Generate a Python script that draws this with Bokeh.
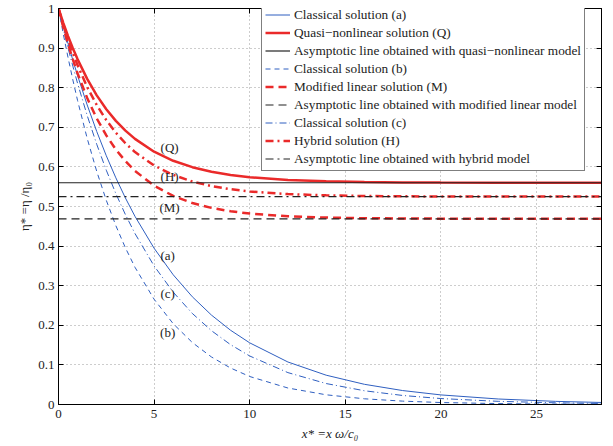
from bokeh.plotting import figure
from bokeh.models import Legend, LegendItem, LinearAxis, Range1d, FixedTicker, ColumnDataSource
from bokeh.embed import file_html
from bokeh.resources import INLINE
from bokeh.core.properties import value

# ---- data ----
x = [0, 0.25, 0.5, 0.75, 1, 1.5, 2, 2.5, 3, 3.5, 4, 5, 6, 7, 8, 9, 10, 12, 14, 16, 18, 20, 23, 26, 28.4]

classical_a = [1.0, 0.9546, 0.9112, 0.8698, 0.8303, 0.7565, 0.6894, 0.6281, 0.5724, 0.5215, 0.4752,
               0.3946, 0.3276, 0.2720, 0.2258, 0.1875, 0.1557, 0.1073, 0.0740, 0.0510, 0.0352,
               0.0242, 0.0139, 0.0079, 0.0051]
classical_b = [1.0, 0.9359, 0.8759, 0.8198, 0.7672, 0.6720, 0.5886, 0.5156, 0.4516, 0.3956, 0.3465,
               0.2658, 0.2039, 0.1565, 0.1200, 0.0921, 0.0707, 0.0416, 0.0245, 0.0144, 0.0085,
               0.0050, 0.0023, 0.0010, 0.0005]
classical_c = [1.0, 0.9489, 0.9003, 0.8543, 0.8106, 0.7298, 0.6570, 0.5916, 0.5326, 0.4795, 0.4317,
               0.3499, 0.2837, 0.2299, 0.1864, 0.1511, 0.1225, 0.0805, 0.0529, 0.0347, 0.0228,
               0.0150, 0.0080, 0.0043, 0.0026]
quasi_q = [1.0, 0.9637, 0.9303, 0.8997, 0.8716, 0.8222, 0.7807, 0.7457, 0.7163, 0.6916, 0.6707,
           0.6384, 0.6155, 0.5993, 0.5879, 0.5797, 0.5740, 0.5670, 0.5635, 0.5618, 0.5609,
           0.5604, 0.5602, 0.5601, 0.5600]
modified_m = [1.0, 0.9531, 0.9103, 0.8713, 0.8358, 0.7738, 0.7223, 0.6796, 0.6440, 0.6144, 0.5899,
              0.5525, 0.5267, 0.5088, 0.4965, 0.4880, 0.4821, 0.4753, 0.4720, 0.4704, 0.4697,
              0.4693, 0.4691, 0.4690, 0.4690]
hybrid_h = [1.0, 0.9591, 0.9218, 0.8876, 0.8564, 0.8018, 0.7562, 0.7181, 0.6863, 0.6598, 0.6375,
            0.6035, 0.5798, 0.5632, 0.5516, 0.5436, 0.5380, 0.5313, 0.5281, 0.5265, 0.5257,
            0.5253, 0.5251, 0.5250, 0.5250]

asym_x = [0, 28.4]
asym_q = [0.56, 0.56]
asym_m = [0.469, 0.469]
asym_h = [0.525, 0.525]

label_x = [5.81, 5.81, 5.81, 5.71, 5.71, 5.71]
label_y = [0.649, 0.576, 0.497, 0.376, 0.280, 0.182]
label_text = ["(Q)", "(H)", "(M)", "(a)", "(c)", "(b)"]

x_ticks = [0, 5, 10, 15, 20, 25]
y_ticks = [0, 0.1, 0.2, 0.3, 0.4, 0.5, 0.6, 0.7, 0.8, 0.9, 1]
y_tick_labels = ["0", "0.1", "0.2", "0.3", "0.4", "0.5", "0.6", "0.7", "0.8", "0.9", "1"]

legend_labels = [
    "Classical solution (a)",
    "Quasi\u2212nonlinear solution (Q)",
    "Asymptotic line obtained with quasi\u2212nonlinear model",
    "Classical solution (b)",
    "Modified linear solution (M)",
    "Asymptotic line obtained with modified linear model",
    "Classical solution (c)",
    "Hybrid solution (H)",
    "Asymptotic line obtained with hybrid model",
]

# ---- styles ----
FONT = "Liberation Serif"
BLUE = "#2f5fc0"
RED = "#ea2a2a"
BLACK = "#222222"

p = figure(width=613, height=446, x_range=Range1d(0, 28.4), y_range=Range1d(0, 1),
           output_backend="svg", toolbar_location=None,
           min_border_left=58, min_border_right=12, min_border_top=8, min_border_bottom=42)
p.background_fill_color = "white"
p.border_fill_color = "white"
p.outline_line_color = "black"
p.outline_line_width = 1

# grid
for g in (p.xgrid, p.ygrid):
    g.grid_line_color = "#9a9a9a"
    g.grid_line_dash = "1 3"
    g.grid_line_width = 1
p.xgrid.ticker = FixedTicker(ticks=x_ticks)
p.ygrid.ticker = FixedTicker(ticks=y_ticks)

# main axes
p.xaxis.ticker = FixedTicker(ticks=x_ticks)
p.yaxis.ticker = FixedTicker(ticks=y_ticks)
p.yaxis.major_label_overrides = {t: s for t, s in zip(y_ticks, y_tick_labels)}
p.xaxis.major_label_overrides = {t: str(t) for t in x_ticks}
for ax in (p.xaxis, p.yaxis):
    ax.axis_line_color = "black"
    ax.major_tick_line_color = "black"
    ax.major_tick_in = 5
    ax.major_tick_out = 0
    ax.minor_tick_line_color = None
    ax.major_label_text_font = FONT
    ax.major_label_text_font_size = "13px"
    ax.major_label_text_color = "#222222"
    ax.axis_label_text_font = FONT
    ax.axis_label_text_font_size = "13px"
    ax.axis_label_text_font_style = "normal"
    ax.axis_label_text_color = "#222222"
p.xaxis.major_label_standoff = 5
p.yaxis.major_label_standoff = 4
p.xaxis.axis_label = "x* =x \u03c9/c\u2080"
p.xaxis.axis_label_text_font_style = "italic"
p.xaxis.axis_label_standoff = 5
p.yaxis.axis_label = "\u03b7* =\u03b7 /\u03b7\u2080"
p.yaxis.axis_label_standoff = 3

# mirror axes (ticks only)
for side, tk in (("right", y_ticks), ("above", x_ticks)):
    ax = LinearAxis(ticker=FixedTicker(ticks=tk), major_tick_in=5, major_tick_out=0,
                    minor_tick_line_color=None, axis_line_color="black",
                    major_tick_line_color="black", major_label_standoff=0,
                    major_label_text_font_size="0px",
                    major_label_overrides={t: "" for t in tk})
    p.add_layout(ax, side)

# curves
r_a = p.line(x, classical_a, line_color=BLUE, line_width=1)
r_b = p.line(x, classical_b, line_color=BLUE, line_width=1, line_dash="5 4")
r_c = p.line(x, classical_c, line_color=BLUE, line_width=1, line_dash="7 3 1 3")
r_q = p.line(x, quasi_q, line_color=RED, line_width=2.5)
r_m = p.line(x, modified_m, line_color=RED, line_width=2.5, line_dash="8 5")
r_h = p.line(x, hybrid_h, line_color=RED, line_width=2.5, line_dash="8 4 2 4")
r_aq = p.line(asym_x, asym_q, line_color=BLACK, line_width=1.2)
r_am = p.line(asym_x, asym_m, line_color=BLACK, line_width=1.2, line_dash="8 5")
r_ah = p.line(asym_x, asym_h, line_color=BLACK, line_width=1.2, line_dash="8 4 2 4")

src = ColumnDataSource(dict(x=label_x, y=label_y, t=label_text))
p.text(x="x", y="y", text="t", source=src, text_font=value(FONT), text_font_size="13px",
       text_align="center", text_baseline="middle", text_color="#222222")

renderers = [r_a, r_q, r_aq, r_b, r_m, r_am, r_c, r_h, r_ah]
items = [LegendItem(label=l, renderers=[r]) for l, r in zip(legend_labels, renderers)]
legend = Legend(items=items, location=(203, 233))
legend.label_text_font = FONT
legend.label_text_font_size = "13.3px"
legend.label_text_color = "#222222"
legend.glyph_width = 25
legend.glyph_height = 17
legend.label_height = 17
legend.spacing = 1
legend.padding = 3
legend.margin = 0
legend.label_standoff = 4
legend.border_line_color = "black"
legend.border_line_width = 1
legend.background_fill_color = "white"
legend.background_fill_alpha = 1
p.add_layout(legend, "center")

open("out.html", "w").write(file_html(p, INLINE))
